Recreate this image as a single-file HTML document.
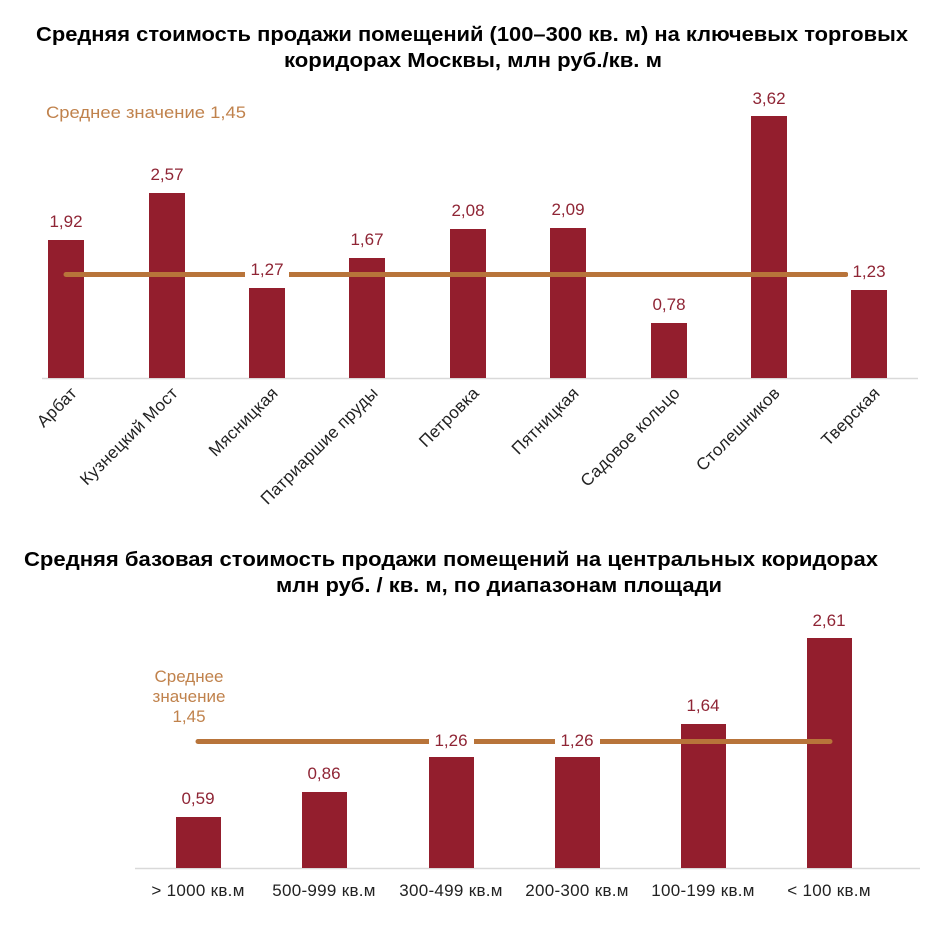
<!DOCTYPE html>
<html><head><meta charset="utf-8"><style>
html,body{margin:0;padding:0;background:#fff}
svg{display:block}
text{font-family:"Liberation Sans","DejaVu Sans",sans-serif}
.t{font-weight:bold;font-size:20px;fill:#000}
.v{font-size:17px;fill:#8f2535;text-anchor:middle}
.c{font-size:17px;fill:#222;letter-spacing:0.3px}
.a{font-size:17px;fill:#c0824c}
.b{fill:#931e2d}
</style></head><body>
<svg width="936" height="936" viewBox="0 0 936 936">
<text class="t" x="36" y="41" textLength="872" lengthAdjust="spacingAndGlyphs">Средняя стоимость продажи помещений (100–300 кв. м) на ключевых торговых</text>
<text class="t" x="284" y="67" textLength="378" lengthAdjust="spacingAndGlyphs">коридорах Москвы, млн руб./кв. м</text>
<text class="a" x="46" y="118" textLength="200" lengthAdjust="spacingAndGlyphs">Среднее значение 1,45</text>
<line x1="42" y1="378.5" x2="918" y2="378.5" stroke="#d9d9d9" stroke-width="1.5"/>
<g>
<rect class="b" x="48" y="240" width="36" height="138"/>
<rect class="b" x="149" y="193" width="36" height="185"/>
<rect class="b" x="249" y="288" width="36" height="90"/>
<rect class="b" x="349" y="258" width="36" height="120"/>
<rect class="b" x="450" y="229" width="36" height="149"/>
<rect class="b" x="550" y="228" width="36" height="150"/>
<rect class="b" x="651" y="323" width="36" height="55"/>
<rect class="b" x="751" y="116" width="36" height="262"/>
<rect class="b" x="851" y="290" width="36" height="88"/>
</g>
<line x1="66" y1="274.5" x2="846" y2="274.5" stroke="#b8743a" stroke-width="5" stroke-linecap="round"/>
<rect x="245" y="256" width="44" height="30" fill="#fff"/>
<rect x="848" y="256" width="44" height="30" fill="#fff"/>
<text class="v" x="66" y="227">1,92</text>
<text class="v" x="167" y="180">2,57</text>
<text class="v" x="267" y="275">1,27</text>
<text class="v" x="367" y="245">1,67</text>
<text class="v" x="468" y="216">2,08</text>
<text class="v" x="568" y="215">2,09</text>
<text class="v" x="669" y="310">0,78</text>
<text class="v" x="769" y="104">3,62</text>
<text class="v" x="869" y="277">1,23</text>
<g>
<text class="c" text-anchor="end" transform="translate(78,394) rotate(-45)">Арбат</text>
<text class="c" text-anchor="end" transform="translate(179,394) rotate(-45)">Кузнецкий Мост</text>
<text class="c" text-anchor="end" transform="translate(279,394) rotate(-45)">Мясницкая</text>
<text class="c" text-anchor="end" transform="translate(379,394) rotate(-45)">Патриаршие пруды</text>
<text class="c" text-anchor="end" transform="translate(480,394) rotate(-45)">Петровка</text>
<text class="c" text-anchor="end" transform="translate(580,394) rotate(-45)">Пятницкая</text>
<text class="c" text-anchor="end" transform="translate(681,394) rotate(-45)">Садовое кольцо</text>
<text class="c" text-anchor="end" transform="translate(781,394) rotate(-45)">Столешников</text>
<text class="c" text-anchor="end" transform="translate(881,394) rotate(-45)">Тверская</text>
</g>
<text class="t" x="24" y="566" textLength="854" lengthAdjust="spacingAndGlyphs">Средняя базовая стоимость продажи помещений на центральных коридорах</text>
<text class="t" x="276" y="592" textLength="446" lengthAdjust="spacingAndGlyphs">млн руб. / кв. м, по диапазонам площади</text>
<text class="a" x="189" y="682" text-anchor="middle">Среднее</text>
<text class="a" x="189" y="702" text-anchor="middle">значение</text>
<text class="a" x="189" y="722" text-anchor="middle">1,45</text>
<line x1="135" y1="868.5" x2="920" y2="868.5" stroke="#d9d9d9" stroke-width="1.5"/>
<rect class="b" x="176" y="817" width="45" height="51"/>
<rect class="b" x="302" y="792" width="45" height="76"/>
<rect class="b" x="429" y="757" width="45" height="111"/>
<rect class="b" x="555" y="757" width="45" height="111"/>
<rect class="b" x="681" y="724" width="45" height="144"/>
<rect class="b" x="807" y="638" width="45" height="230"/>
<line x1="198" y1="741.5" x2="830" y2="741.5" stroke="#b8743a" stroke-width="5" stroke-linecap="round"/>
<rect x="429" y="728" width="45" height="26" fill="#fff"/>
<rect x="555" y="728" width="45" height="26" fill="#fff"/>
<text class="v" x="198" y="804">0,59</text>
<text class="v" x="324" y="779">0,86</text>
<text class="v" x="451" y="746">1,26</text>
<text class="v" x="577" y="746">1,26</text>
<text class="v" x="703" y="711">1,64</text>
<text class="v" x="829" y="626">2,61</text>
<g>
<text class="c" x="198" y="896" text-anchor="middle">&gt; 1000 кв.м</text>
<text class="c" x="324" y="896" text-anchor="middle">500-999 кв.м</text>
<text class="c" x="451" y="896" text-anchor="middle">300-499 кв.м</text>
<text class="c" x="577" y="896" text-anchor="middle">200-300 кв.м</text>
<text class="c" x="703" y="896" text-anchor="middle">100-199 кв.м</text>
<text class="c" x="829" y="896" text-anchor="middle">&lt; 100 кв.м</text>
</g>
</svg>
</body></html>
